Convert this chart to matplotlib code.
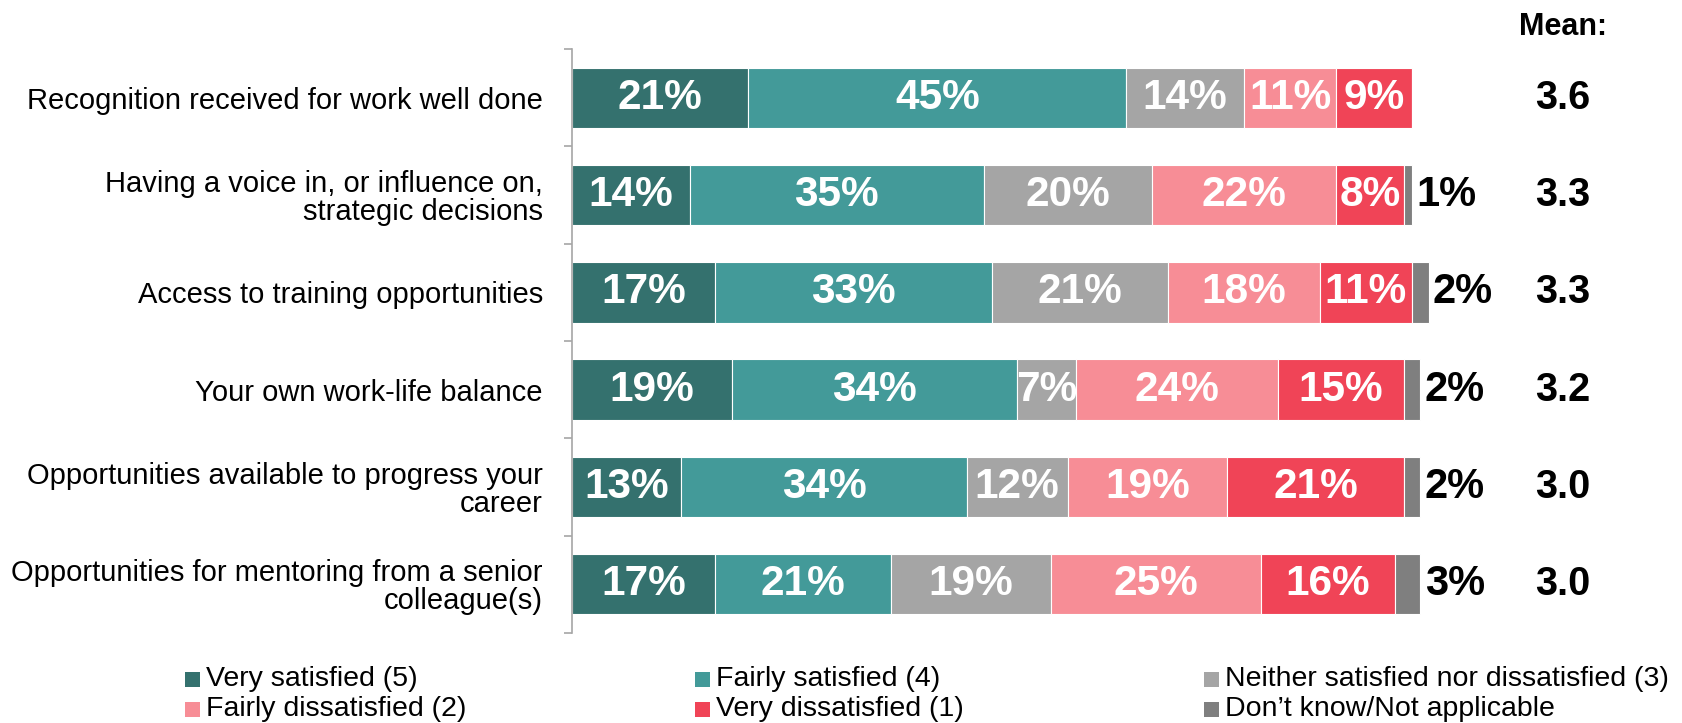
import numpy as np
import matplotlib.pyplot as plt
from matplotlib.patches import Rectangle
from matplotlib.ticker import FixedLocator
from matplotlib.transforms import blended_transform_factory

plt.rcParams['font.family'] = ['Liberation Sans', 'DejaVu Sans']

# 满意度调查数据（百分比）
categories = [
    "Recognition received for work well done",
    "Having a voice in, or influence on,\nstrategic decisions",
    "Access to training opportunities",
    "Your own work-life balance",
    "Opportunities available to progress your\ncareer",
    "Opportunities for mentoring from a senior\ncolleague(s)",
]
very_sat = [21, 14, 17, 19, 13, 17]
fairly_sat = [45, 35, 33, 34, 34, 21]
neither = [14, 20, 21, 7, 12, 19]
fairly_dis = [11, 22, 18, 24, 19, 25]
very_dis = [9, 8, 11, 15, 21, 16]
dont_know = [0, 1, 2, 2, 2, 3]
means = [3.6, 3.3, 3.3, 3.2, 3.0, 3.0]

series_names = [
    "Very satisfied (5)", "Fairly satisfied (4)",
    "Neither satisfied nor dissatisfied (3)",
    "Fairly dissatisfied (2)", "Very dissatisfied (1)",
    "Don\u2019t know/Not applicable",
]
colors = ['#34716E', '#439A99', '#A5A5A5', '#F78D96', '#F04457', '#7F7F7F']
series = [very_sat, fairly_sat, neither, fairly_dis, very_dis, dont_know]

fig = plt.figure(figsize=(16.83, 7.23), dpi=100)
ax = fig.add_axes([0.3399, 0.1245, 0.549, 0.8077])

y = np.arange(len(categories))
left = np.zeros(len(categories))
for i, (vals, c) in enumerate(zip(series, colors)):
    vals = np.array(vals, dtype=float)
    ax.barh(y, vals, left=left, height=0.62, color=c,
            edgecolor='white', linewidth=0.8)
    for yi, v, l in zip(y, vals, left):
        if v <= 0:
            continue
        if i == len(series) - 1:
            # 小比例放在条形外侧
            ax.annotate(f"{int(v)}%", (l + v, yi), xytext=(3, 0),
                        textcoords='offset points', ha='left', va='center',
                        fontsize=30, fontweight='bold', color='black')
        else:
            ax.text(l + v / 2, yi, f"{int(v)}%", ha='center', va='center',
                    fontsize=30.5, fontweight='bold', color='white')
    left += vals

ax.set_xlim(0, 110)
ax.set_ylim(len(categories) - 0.5, -0.5)

# 坐标轴样式：只保留左侧轴线
for s in ['top', 'right', 'bottom']:
    ax.spines[s].set_visible(False)
ax.spines['left'].set_color('#A6A6A6')
ax.spines['left'].set_linewidth(1.2)
ax.set_xticks([])
ax.set_yticks(y)
ax.set_yticklabels(categories, fontsize=21, linespacing=1.0)
ax.tick_params(axis='y', which='major', length=0, pad=21)
ax.yaxis.set_minor_locator(FixedLocator(np.arange(-0.5, len(categories), 1)))
ax.tick_params(axis='y', which='minor', length=6, color='#A6A6A6', width=1.2)

# 均值列
fig.text(0.9287, 0.962, "Mean:", ha='center', va='center',
         fontsize=22, fontweight='bold')
mean_tr = blended_transform_factory(fig.transFigure, ax.transData)
for yi, m in zip(y, means):
    ax.text(0.9287, yi, f"{m:.1f}", transform=mean_tr, ha='center',
            va='center', fontsize=28.5, fontweight='bold')

# 图例
col_x = [185 / 1683, 695 / 1683, 1204 / 1683]
row_y = [1 - 679.5 / 723, 1 - 709.5 / 723]
sq_w, sq_h = 15 / 1683, 15 / 723
for k, (name, c) in enumerate(zip(series_names, colors)):
    cx = col_x[k % 3]
    ry = row_y[k // 3]
    fig.add_artist(Rectangle((cx, ry - sq_h / 2), sq_w, sq_h,
                             transform=fig.transFigure, color=c, lw=0))
    fig.text(cx + 21 / 1683, ry, name, ha='left', va='center', fontsize=20.5)

fig.savefig('out.png', dpi=100)
